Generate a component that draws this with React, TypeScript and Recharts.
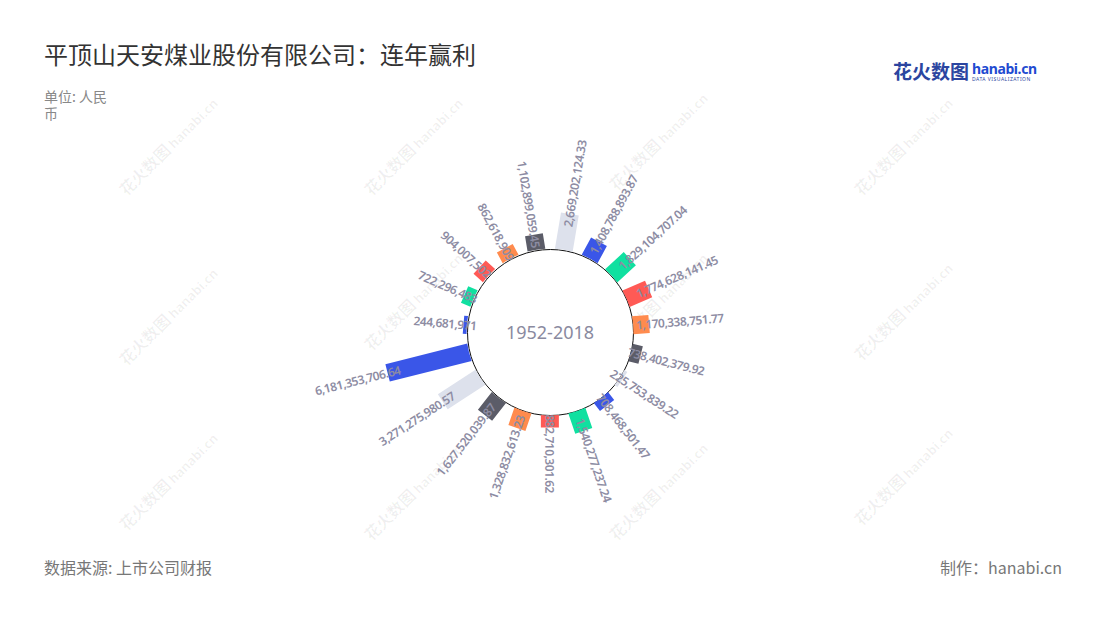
import React from "react";
import {
  RadialBarChart,
  RadialBar,
  PolarAngleAxis,
  PolarRadiusAxis,
  Cell,
} from "recharts";

// one bar per period, clockwise from the top
const periods = [
  "p01", "p02", "p03", "p04", "p05", "p06", "p07", "p08", "p09", "p10",
  "p11", "p12", "p13", "p14", "p15", "p16", "p17", "p18", "p19",
];

const profits = [
  2669202124.33, 1408788893.87, 1829104707.04, 1774628141.45, 1170338751.77,
  738402379.92, 225753839.22, 708468501.47, 1540277237.24, 882710301.62,
  1328832613.23, 1627520039.87, 3271275980.57, 6181353706.64, 244681971,
  722296483, 904007502, 862618909, 1102899059.45,
];

const LIGHT = "#dde1ec";
const BLUE = "#3a56e8";
const GREEN = "#10e0a0";
const RED = "#ff5a55";
const ORANGE = "#ff8b4e";
const DARK = "#5b5c68";

const barColors = [
  LIGHT, BLUE, GREEN, RED, ORANGE, DARK,
  LIGHT, BLUE, GREEN, RED, ORANGE, DARK,
  LIGHT, BLUE, BLUE, GREEN, RED, ORANGE, DARK,
];

const data = periods.map((name, i) => ({ name, value: profits[i] }));

const CX = 550;
const CY = 332;
const INNER = 83.5;
const BAR_W = 18;
const LABEL_COLOR = "#8d8ca3";
// first band runs from 12 o'clock clockwise
const START = 90 - 360 / periods.length;

const fmt = (v: number) =>
  v.toLocaleString("en-US", { maximumFractionDigits: 2 });

function RectBar(props: any) {
  const { cx, cy, innerRadius, outerRadius, startAngle, endAngle, fill, value } =
    props;
  const mid = (startAngle + endAngle) / 2;
  const rad = (mid * Math.PI) / 180;
  const ux = Math.cos(rad);
  const uy = -Math.sin(rad);
  const px = -uy;
  const py = ux;
  const h = BAR_W / 2;
  const r0 = Math.sqrt(innerRadius * innerRadius - h * h);
  const r1 = Math.max(outerRadius, innerRadius);
  const pt = (r: number, s: number) =>
    `${cx + ux * r + px * s},${cy + uy * r + py * s}`;
  const d = `M${pt(r0, -h)} L${pt(r1, -h)} L${pt(r1, h)} L${pt(r0, h)} A${innerRadius},${innerRadius} 0 0 0 ${pt(r0, -h)} Z`;

  const a = ((((mid + 180) % 360) + 360) % 360) - 180;
  const right = a > -91 && a < 90;
  const lr = r1 - 13;
  const lx = cx + ux * lr;
  const ly = cy + uy * lr;
  const rot = right ? -a : 180 - a;

  return (
    <g>
      <path d={d} fill={fill} />
      <text
        x={lx}
        y={ly}
        transform={`rotate(${rot} ${lx} ${ly})`}
        textAnchor={right ? "start" : "end"}
        dominantBaseline="central"
        fontSize={12}
        fontWeight={600}
        letterSpacing={-0.5}
        fill={LABEL_COLOR}
        fontFamily="'Noto Sans', sans-serif"
      >
        {fmt(value)}
      </text>
    </g>
  );
}

const marks = [
  [165, 150], [410, 150], [655, 145], [900, 150],
  [165, 320], [410, 305], [655, 305], [900, 315],
  [165, 485], [410, 495], [655, 495], [900, 480],
];

function Watermarks() {
  return (
    <>
      {marks.map(([x, y], i) => (
        <div
          key={i}
          style={{
            position: "absolute",
            left: x - 60,
            top: y - 10,
            width: 120,
            textAlign: "center",
            transform: "rotate(-45deg)",
            color: "rgba(0,0,0,0.06)",
            fontWeight: 700,
            fontSize: 13,
            whiteSpace: "nowrap",
            lineHeight: "20px",
          }}
        >
          <span style={{ fontSize: 16 }}>花火数图</span> hanabi.cn
        </div>
      ))}
    </>
  );
}

export default function App() {
  return (
    <div
      style={{
        position: "absolute",
        left: 0,
        top: 0,
        width: 1100,
        height: 620,
        background: "#fff",
        overflow: "hidden",
        fontFamily: "'Noto Sans', 'Noto Sans CJK SC', sans-serif",
      }}
    >
      <Watermarks />

      <div
        style={{
          position: "absolute",
          left: 44,
          top: 37,
          fontSize: 24,
          lineHeight: "34px",
          color: "#333",
          fontFamily: "'Noto Sans CJK SC', sans-serif",
        }}
      >
        平顶山天安煤业股份有限公司：连年赢利
      </div>
      <div
        style={{
          position: "absolute",
          left: 44,
          top: 88,
          width: 68,
          fontSize: 14,
          lineHeight: "17px",
          color: "#888",
          fontFamily: "'Noto Sans CJK SC', sans-serif",
        }}
      >
        单位: 人民币
      </div>

      <div
        style={{
          position: "absolute",
          left: 893,
          top: 59,
          display: "flex",
          alignItems: "flex-start",
          gap: 3,
        }}
      >
        <span
          style={{
            fontSize: 19,
            lineHeight: "24px",
            fontWeight: 700,
            color: "#2b45a0",
            fontFamily: "'Noto Sans CJK SC', sans-serif",
          }}
        >
          花火数图
        </span>
        <span style={{ display: "flex", flexDirection: "column", paddingTop: 2 }}>
          <span
            style={{
              fontSize: 14,
              lineHeight: "15px",
              fontWeight: 700,
              color: "#1f4bd1",
              letterSpacing: -0.4,
            }}
          >
            hanabi.cn
          </span>
          <span
            style={{
              fontSize: 5,
              lineHeight: "6px",
              color: "#2b45a0",
              letterSpacing: 0.5,
            }}
          >
            DATA VISUALIZATION
          </span>
        </span>
      </div>

      <div
        style={{
          position: "absolute",
          left: CX - INNER,
          top: CY - INNER,
          width: INNER * 2,
          height: INNER * 2,
          boxSizing: "border-box",
          border: "1px solid #111",
          borderRadius: "50%",
          background: "#fff",
          display: "flex",
          alignItems: "center",
          justifyContent: "center",
          fontSize: 18,
          color: "#8a8aa0",
        }}
      >
        1952-2018
      </div>

      <div style={{ position: "absolute", left: 0, top: 0 }}>
        <RadialBarChart
          width={1100}
          height={620}
          data={data}
          layout="centric"
          cx={CX}
          cy={CY}
          innerRadius={INNER}
          outerRadius={192.2}
          startAngle={START}
          endAngle={START - 360}
          margin={{ top: 0, right: 0, bottom: 0, left: 0 }}
        >
          <PolarAngleAxis
            type="category"
            dataKey="name"
            tick={false}
            axisLine={false}
            tickLine={false}
          />
          <PolarRadiusAxis
            type="number"
            domain={[0, 8000000000]}
            tick={false}
            axisLine={false}
            tickLine={false}
          />
          <RadialBar
            dataKey="value"
            isAnimationActive={false}
            shape={RectBar}
          >
            {data.map((d, i) => (
              <Cell key={d.name} fill={barColors[i]} />
            ))}
          </RadialBar>
        </RadialBarChart>
      </div>

      <div
        style={{
          position: "absolute",
          left: 44,
          top: 557,
          fontSize: 16,
          lineHeight: "20px",
          color: "#777",
          fontFamily: "'Noto Sans CJK SC', sans-serif",
        }}
      >
        数据来源: 上市公司财报
      </div>
      <div
        style={{
          position: "absolute",
          right: 38,
          top: 557,
          fontSize: 16,
          lineHeight: "20px",
          color: "#777",
          fontFamily: "'Noto Sans CJK SC', sans-serif",
        }}
      >
        制作：hanabi.cn
      </div>
    </div>
  );
}
